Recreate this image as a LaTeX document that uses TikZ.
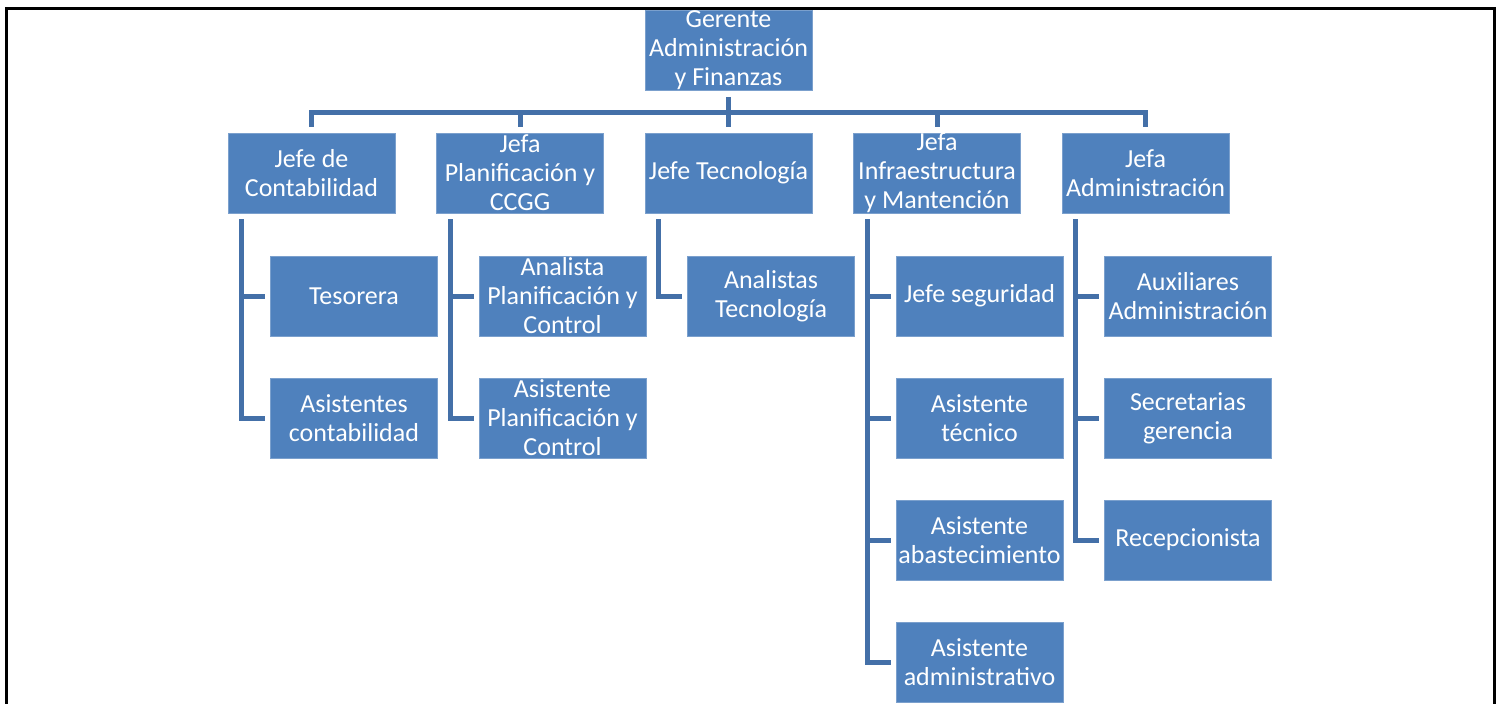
\documentclass[tikz,border=0pt]{standalone}
\usepackage{fontspec}
\setmainfont{Carlito}
\usetikzlibrary{calc}
\definecolor{boxblue}{HTML}{4F81BD}
\definecolor{lineblue}{HTML}{4470A8}
\tikzset{orgtext/.style={text=white, align=flush center, inner sep=0pt, text width=167pt,
           font=\fontsize{26}{29}\selectfont},
         orgbox/.style={fill=boxblue, draw=boxblue!75!white, line width=0.6pt,
           minimum width=167pt, minimum height=80pt, inner sep=0pt,
           label={[orgtext]center:#1}},
         orgline/.style={draw=lineblue, line width=5pt}}

\begin{document}
\begin{tikzpicture}[x=1pt,y=-1pt]
		\useasboundingbox (0,0) rectangle (1502,704);
		\draw[line width=3pt] (6,720) -- (6,8) -- (1494,8) -- (1494,720);
		% top
		\node[orgbox={Gerente\\Administración\\y Finanzas}] (ger) at (728.5,50.5) {};
		% jefaturas
		\node[orgbox={Jefe de\\Contabilidad}] (j1) at (311.5,173) {};
		\node[orgbox={Jefa\\Planificación y\\CCGG}] (j2) at (520,173) {};
		\node[orgbox={Jefe Tecnología}] (j3) at (728.5,173) {};
		\node[orgbox={Jefa\\Infraestructura\\y Mantención}] (j4) at (937,173) {};
		\node[orgbox={Jefa\\Administración}] (j5) at (1145.5,173) {};
		% dependientes
		\node[orgbox={Tesorera}] (c11) at (354,296) {};
		\node[orgbox={Asistentes\\contabilidad}] (c12) at (354,418) {};
		\node[orgbox={Analista\\Planificación y\\Control}] (c21) at (562.5,296) {};
		\node[orgbox={Asistente\\Planificación y\\Control}] (c22) at (562.5,418) {};
		\node[orgbox={Analistas\\Tecnología}] (c31) at (771,296) {};
		\node[orgbox={Jefe seguridad}] (c41) at (979.5,296) {};
		\node[orgbox={Asistente\\técnico}] (c42) at (979.5,418) {};
		\node[orgbox={Asistente\\abastecimiento}] (c43) at (979.5,540) {};
		\node[orgbox={Asistente\\administrativo}] (c44) at (979.5,662) {};
		\node[orgbox={Auxiliares\\Administración}] (c51) at (1188,296) {};
		\node[orgbox={Secretarias\\gerencia}] (c52) at (1188,418) {};
		\node[orgbox={Recepcionista}] (c53) at (1188,540) {};
		% conectores
		\coordinate (bar) at (728.5,112);
		\draw[orgline] ([yshift=-6pt]ger.south) -- ([yshift=6pt]j3.north);
		\draw[orgline] ([yshift=6pt]j1.north) |- (bar) -| ([yshift=6pt]j5.north);
		\foreach \j in {j2,j4}
			\draw[orgline] ([yshift=6pt]\j.north) -- (\j.north |- bar);
		\foreach \p/\c in {j1/c11,j1/c12,j2/c21,j2/c22,j3/c31,j4/c41,j4/c42,j4/c43,j4/c44,j5/c51,j5/c52,j5/c53}
			\draw[orgline] ([xshift=14pt,yshift=-6pt]\p.south west) |- ([xshift=-5pt]\c.west);
	\end{tikzpicture}
\end{document}
